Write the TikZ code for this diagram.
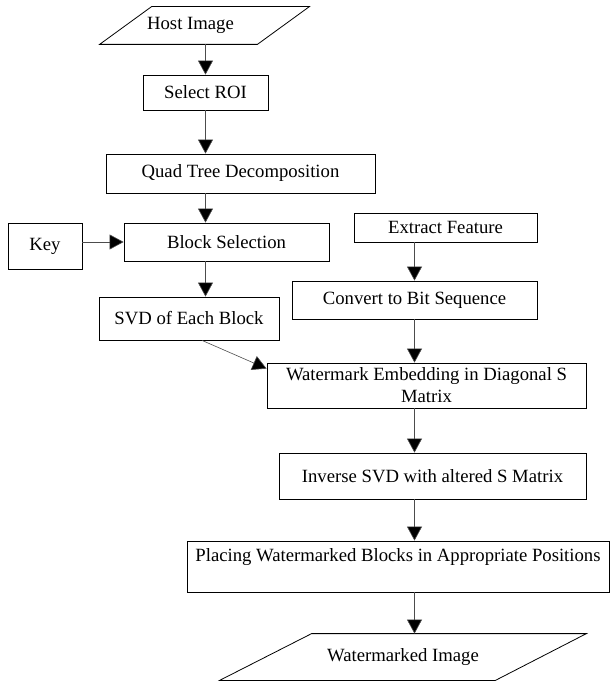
\documentclass[tikz,border=0pt]{standalone}
\usepackage{fontspec}
\setmainfont{Liberation Serif}
\usetikzlibrary{arrows.meta}

\begin{document}
\begin{tikzpicture}[x=1pt,y=-1pt,
    box/.style={draw, line width=0.8pt, inner sep=0pt, align=center,
      font=\fontsize{18.7}{22}\selectfont},
    io/.style={box, draw=none},
    slant/.style={line width=0.8pt, line join=miter},
    flow/.style={draw=black!70, line width=0.6pt,
      -{Triangle[length=14pt,width=15pt,fill=black]}}]

  \useasboundingbox (0,0) rectangle (610,684);

  %% Left column
  \node[io, minimum width=209pt, minimum height=37pt] (host) at (204.5,25.5) {\hspace*{-28pt}Host Image};
  \draw[slant] ([xshift=52pt]host.north west) -- (host.north east)
    -- ([xshift=-52pt]host.south east) -- (host.south west) -- cycle;
  \node[box, minimum width=125pt, minimum height=35pt] (roi) at (205.5,92.5) {Select ROI};
  \node[box, minimum width=269pt, minimum height=39pt] (quad) at (240.5,173.5) {Quad Tree Decomposition};
  \node[box, minimum width=74pt, minimum height=46pt] (key) at (45,246) {Key};
  \node[box, minimum width=205pt, minimum height=38pt] (block) at (226.5,242) {Block Selection};
  \node[box, minimum width=180pt, minimum height=43pt] (svd) at (189,318.5) {SVD of Each Block};

  %% Right column
  \node[box, minimum width=183pt, minimum height=29pt] (feat) at (445.5,227.5) {Extract Feature};
  \node[box, minimum width=245pt, minimum height=38pt] (bits) at (414.5,300) {Convert to Bit Sequence};
  \node[box, minimum width=319pt, minimum height=45pt] (embed) at (426.5,385.5)
    {Watermark Embedding in Diagonal S\\Matrix};
  \node[box, minimum width=307pt, minimum height=46pt] (isvd) at (432.5,476) {Inverse SVD with altered S Matrix};
  \node[box, minimum width=422pt, minimum height=51pt] (place) at (398,566.5)
    {Placing Watermarked Blocks in Appropriate Positions\\[1pt]\mbox{}};
  \node[io, minimum width=366pt, minimum height=46pt] (wimg) at (403,657) {Watermarked Image};
  \draw[slant] ([xshift=92pt]wimg.north west) -- (wimg.north east)
    -- ([xshift=-91pt]wimg.south east) -- (wimg.south west) -- cycle;

  %% Arrows
  \draw[flow] (host.south -| roi) -- (roi.north);
  \draw[flow] (roi.south) -- (roi.south |- quad.north);
  \draw[flow] (quad.south -| roi) -- (block.north -| roi);
  \draw[flow] (key.east |- block) -- (block.west);
  \draw[flow] (block.south -| roi) -- (svd.north -| roi);
  \draw[flow] ([xshift=13pt]svd.south) -- ([yshift=-6pt]embed.north west);
  \draw[flow] (feat.south -| bits) -- (bits.north);
  \draw[flow] (bits.south) -- (bits.south |- embed.north);
  \draw[flow] (embed.south -| bits) -- (isvd.north -| bits);
  \draw[flow] (isvd.south -| bits) -- (place.north -| bits);
  \draw[flow] (place.south -| bits) -- (wimg.north -| bits);

\end{tikzpicture}
\end{document}
